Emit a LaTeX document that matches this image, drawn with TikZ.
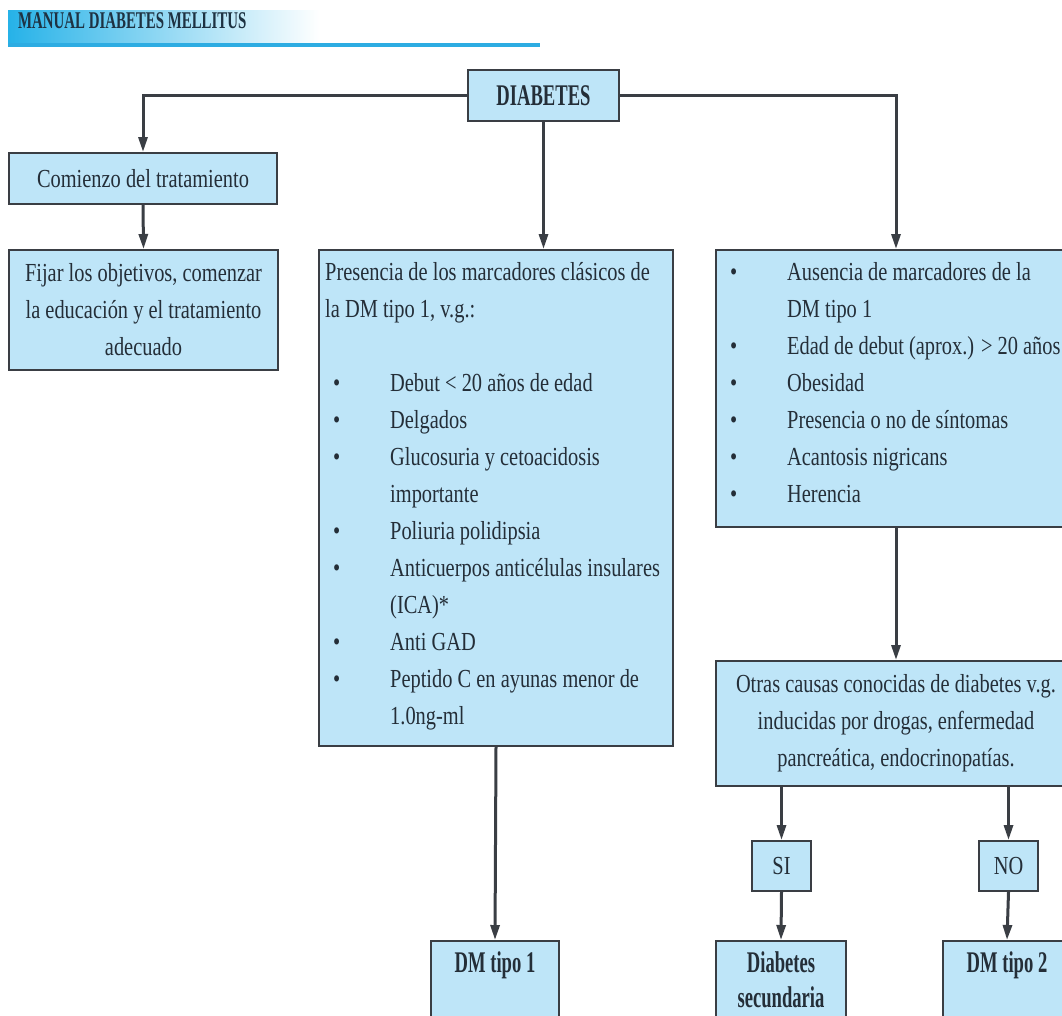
\documentclass[tikz,border=0pt]{standalone}
\usepackage{fontspec}
\setmainfont[FakeStretch=0.785]{Liberation Serif}
\newfontfamily\headfont[FakeStretch=0.62]{Liberation Serif}
\usetikzlibrary{arrows.meta,positioning,calc}
\definecolor{boxfill}{RGB}{190,229,248}
\definecolor{boxline}{RGB}{58,62,68}
\definecolor{ink}{RGB}{36,46,56}
\definecolor{bandblue}{RGB}{38,178,232}
\definecolor{bandline}{RGB}{45,172,226}
\definecolor{headink}{RGB}{30,50,66}
\newcommand{\bitem}[1]{\makebox[65pt][l]{\hspace*{8pt}\textbullet}#1}
\newcommand{\bcont}[1]{\hspace*{65pt}#1}
\tikzset{
  box/.style={draw=boxline,line width=2pt,fill=boxfill,anchor=north west,
              text=ink,align=center,inner sep=0pt},
  txt/.style={text=ink,align=left,inner sep=0pt,anchor=north west},
  boldtxt/.style={text=ink,align=center,inner sep=0pt,anchor=north,
                  font=\headfont\bfseries\fontsize{30pt}{35pt}\selectfont},
  conn/.style={draw=boxline,line width=3pt,-{Triangle[width=9pt,length=15pt]}}
}

\begin{document}
\begin{tikzpicture}[x=1pt,y=-1pt,font=\fontsize{26pt}{37pt}\selectfont]
  \useasboundingbox (0,0) rectangle (1062,1015);
  \fill[white] (0,0) rectangle (1062,1015);
  % header band
  \shade[left color=bandblue,right color=white] (8,10) rectangle (320,43);
  \fill[bandline] (8,43) rectangle (540,47);
  \node[anchor=base west,inner sep=0pt,text=headink,font=\headfont\bfseries\fontsize{24pt}{28pt}\selectfont]
    (head) at (18,28) {MANUAL DIABETES MELLITUS};

  % boxes
  \node[box,minimum width=151pt,minimum height=51pt,font=\headfont\bfseries\fontsize{30pt}{37pt}\selectfont]
    (diab) at (467,69) {DIABETES};
  \node[box,minimum width=268pt,minimum height=51pt] (comz) at (8,152) {Comienzo del tratamiento};
  \node[box,minimum width=269pt,minimum height=120pt] (fijar) at (8,249)
    {Fijar los objetivos, comenzar\\la educación y el tratamiento\\adecuado};
  \node[box,minimum width=354pt,minimum height=496pt] (mid) at (318,249) {};
  \node[box,minimum width=360pt,minimum height=277pt] (rbox) at (715,249) {};
  \node[box,minimum width=360pt,minimum height=125pt] (otras) at (715,660)
    {Otras causas conocidas de diabetes v.g.\\inducidas por drogas, enfermedad\\pancreática, endocrinopatías.};
  \node[box,minimum width=59pt,minimum height=50pt] (si) at (751,840) {SI};
  \node[box,minimum width=59pt,minimum height=50pt] (no) at (978,840) {NO};
  \node[box,minimum width=128pt,minimum height=100pt] (dm1) at (430,940) {};
  \node[box,minimum width=130pt,minimum height=100pt] (dsec) at (715,940) {};
  \node[box,minimum width=128pt,minimum height=100pt] (dm2) at (942,940) {};

  % box texts
  \node[txt] (midtxt) at ($(mid.north west)+(7,13)$)
    {Presencia de los marcadores clásicos de\\la DM tipo 1, v.g.:\\[37pt]
     \bitem{Debut < 20 años de edad}\\
     \bitem{Delgados}\\
     \bitem{Glucosuria y cetoacidosis}\\
     \bcont{importante}\\
     \bitem{Poliuria polidipsia}\\
     \bitem{Anticuerpos anticélulas insulares}\\
     \bcont{(ICA)*}\\
     \bitem{Anti GAD}\\
     \bitem{Peptido C en ayunas menor de}\\
     \bcont{1.0ng-ml}};
  \node[txt] (rtxt) at ($(rbox.north west)+(7,13)$)
    {\bitem{Ausencia de marcadores de la}\\
     \bcont{DM tipo 1}\\
     \bitem{Edad de debut (aprox.) > 20 años}\\
     \bitem{Obesidad}\\
     \bitem{Presencia o no de síntomas}\\
     \bitem{Acantosis nigricans}\\
     \bitem{Herencia}};
  \node[boldtxt] (dm1txt) at ($(dm1.north)+(0,11)$) {DM tipo 1};
  \node[boldtxt] (dsectxt) at ($(dsec.north)+(0,11)$) {Diabetes\\secundaria};
  \node[boldtxt] (dm2txt) at ($(dm2.north)+(0,11)$) {DM tipo 2};

  % connectors
  \draw[conn] (diab.west) -| (comz.north);
  \draw[conn] (diab.east) -| (rbox.north);
  \draw[conn] (diab.south) -- (diab.south |- mid.north);
  \draw[conn] (comz.south) -- (fijar.north);
  \draw[conn] (mid.south) -- (dm1.north);
  \draw[conn] (rbox.south) -- (otras.north);
  \draw[conn] (otras.south -| si.north) -- (si.north);
  \draw[conn] (otras.south -| no.north) -- (no.north);
  \draw[conn] (si.south) -- (dsec.north);
  \draw[conn] (no.south) -- (dm2.north);
\end{tikzpicture}
\end{document}
